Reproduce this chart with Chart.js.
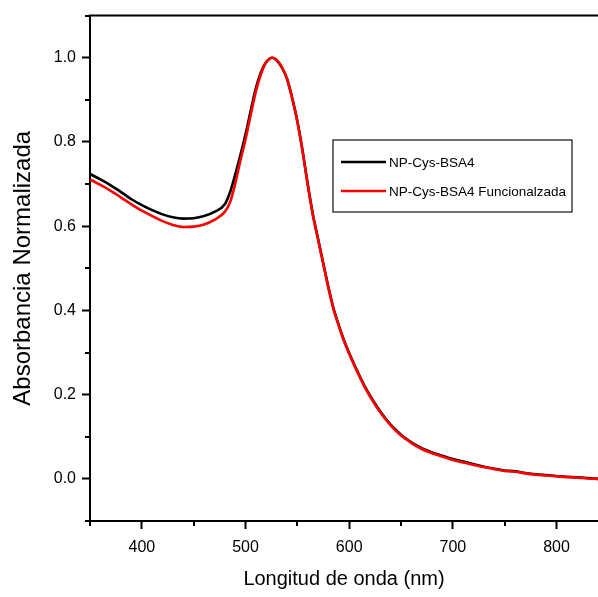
<!DOCTYPE html>
<html lang="es">
<head>
<meta charset="UTF-8">
<title>Absorbancia Normalizada</title>
<script src="https://cdn.jsdelivr.net/npm/chart.js@4.4.1/dist/chart.umd.min.js"></script>
<style>
    body { margin: 0; background: #fff; }
    #wrap { width: 598px; height: 597px; }
</style>
</head>
<body>
<div id="wrap"><canvas id="myChart" width="598" height="597"></canvas></div>
<script>
// data
const wavelength = [350, 360, 370, 380, 390, 400, 410, 420, 430, 440, 450, 460, 470, 480, 485, 490, 495, 500, 505, 510, 515, 520, 526, 530, 535, 540, 545, 550, 555, 560, 565, 570, 575, 580, 585, 590, 595, 600, 605, 610, 615, 620, 630, 640, 650, 655, 660, 670, 680, 690, 700, 710, 720, 730, 740, 750, 760, 770, 780, 790, 800, 810, 820, 830, 840];
const absBsa4 = [0.724, 0.711, 0.697, 0.681, 0.664, 0.650, 0.638, 0.628, 0.621, 0.618, 0.619, 0.624, 0.634, 0.652, 0.680, 0.722, 0.768, 0.818, 0.874, 0.928, 0.966, 0.990, 1.000, 0.994, 0.977, 0.950, 0.905, 0.850, 0.780, 0.700, 0.628, 0.570, 0.512, 0.455, 0.404, 0.365, 0.329, 0.299, 0.271, 0.245, 0.220, 0.198, 0.160, 0.129, 0.105, 0.095, 0.087, 0.073, 0.063, 0.055, 0.047, 0.041, 0.035, 0.029, 0.024, 0.020, 0.018, 0.014, 0.011, 0.009, 0.007, 0.005, 0.004, 0.002, 0.000];
const absFunc = [0.711, 0.698, 0.684, 0.668, 0.652, 0.637, 0.624, 0.612, 0.603, 0.598, 0.599, 0.604, 0.615, 0.634, 0.656, 0.700, 0.755, 0.806, 0.864, 0.920, 0.962, 0.989, 1.000, 0.995, 0.978, 0.950, 0.903, 0.848, 0.778, 0.698, 0.626, 0.568, 0.510, 0.453, 0.402, 0.363, 0.327, 0.297, 0.269, 0.243, 0.218, 0.196, 0.158, 0.127, 0.103, 0.094, 0.085, 0.071, 0.061, 0.053, 0.045, 0.039, 0.033, 0.028, 0.023, 0.019, 0.017, 0.013, 0.010, 0.008, 0.006, 0.004, 0.003, 0.001, 0.000];
const seriesLabels = ['NP-Cys-BSA4', 'NP-Cys-BSA4 Funcionalzada'];

const xMajorTicks = [400, 500, 600, 700, 800];
const xMinorTicks = [350, 450, 550, 650, 750];
const yMajorTicks = [0, 0.2, 0.4, 0.6, 0.8, 1.0];
const yMinorTicks = [-0.1, 0.1, 0.3, 0.5, 0.7, 0.9, 1.1];

const fontFamily = "'Liberation Sans', Arial, sans-serif";
Chart.defaults.font.family = fontFamily;
Chart.defaults.color = '#000';

// minor ticks and the top frame line
const framePlugin = {
    id: 'frame',
    afterDraw(chart) {
        const ctx = chart.ctx;
        const area = chart.chartArea;
        const xs = chart.scales.x;
        const ys = chart.scales.y;
        ctx.save();
        ctx.strokeStyle = '#000';
        ctx.lineWidth = 2;
        ctx.beginPath();
        ctx.moveTo(area.left - 1, area.top);
        ctx.lineTo(area.right, area.top);
        yMinorTicks.forEach(v => {
            const py = Math.round(ys.getPixelForValue(v));
            ctx.moveTo(area.left - 5, py);
            ctx.lineTo(area.left, py);
        });
        xMinorTicks.forEach(v => {
            const px = Math.round(xs.getPixelForValue(v));
            ctx.moveTo(px, area.bottom);
            ctx.lineTo(px, area.bottom + 5);
        });
        ctx.stroke();
        ctx.restore();
    }
};

// boxed legend inside the plot
const legendBoxPlugin = {
    id: 'legendBox',
    afterDraw(chart) {
        const ctx = chart.ctx;
        const box = { x: 333, y: 140, w: 239, h: 72 };
        ctx.save();
        ctx.strokeStyle = '#222';
        ctx.lineWidth = 1.3;
        ctx.strokeRect(box.x, box.y, box.w, box.h);
        ctx.font = '13.5px ' + fontFamily;
        ctx.textBaseline = 'middle';
        ctx.fillStyle = '#000';
        const rows = [1, 0]; // dataset index per row
        const rowY = [162, 191];
        rows.forEach((di, i) => {
            const ds = chart.data.datasets[di];
            ctx.strokeStyle = ds.borderColor;
            ctx.lineWidth = 2.5;
            ctx.beginPath();
            ctx.moveTo(341, rowY[i]);
            ctx.lineTo(386, rowY[i]);
            ctx.stroke();
            ctx.fillText(ds.label, 389, rowY[i] + 1);
        });
        ctx.restore();
    }
};

const ctx = document.getElementById('myChart').getContext('2d');
new Chart(ctx, {
    type: 'line',
    data: {
        datasets: [
            {
                label: seriesLabels[1],
                data: wavelength.map((w, i) => ({ x: w, y: absFunc[i] })),
                borderColor: '#ff0000',
                borderWidth: 2.6,
                pointRadius: 0,
                cubicInterpolationMode: 'monotone',
                order: 1
            },
            {
                label: seriesLabels[0],
                data: wavelength.map((w, i) => ({ x: w, y: absBsa4[i] })),
                borderColor: '#000000',
                borderWidth: 2.6,
                pointRadius: 0,
                cubicInterpolationMode: 'monotone',
                order: 2
            }
        ]
    },
    options: {
        responsive: false,
        animation: false,
        layout: { padding: { top: 15, right: 0, bottom: 0, left: 0 } },
        plugins: {
            legend: { display: false },
            tooltip: { enabled: false }
        },
        scales: {
            x: {
                type: 'linear',
                min: 350,
                max: 840,
                afterBuildTicks: scale => { scale.ticks = xMajorTicks.map(v => ({ value: v })); },
                afterFit: scale => { scale.height = 76; },
                grid: { display: true, drawOnChartArea: false, drawTicks: true, tickLength: 8, tickWidth: 2, tickColor: '#000' },
                border: { display: true, color: '#000', width: 2 },
                ticks: {
                    font: { size: 16 },
                    color: '#000',
                    padding: 9,
                    maxRotation: 0,
                    autoSkip: false,
                    callback: v => String(v)
                },
                title: {
                    display: true,
                    text: 'Longitud de onda (nm)',
                    font: { size: 20 },
                    color: '#000',
                    padding: { top: 0, bottom: 6 }
                }
            },
            y: {
                type: 'linear',
                min: -0.1,
                max: 1.1,
                afterBuildTicks: scale => { scale.ticks = yMajorTicks.map(v => ({ value: v })); },
                afterFit: scale => { scale.width = 90; },
                grid: { display: true, drawOnChartArea: false, drawTicks: true, tickLength: 8, tickWidth: 2, tickColor: '#000' },
                border: { display: true, color: '#000', width: 2 },
                ticks: {
                    font: { size: 16 },
                    color: '#000',
                    padding: 6,
                    callback: v => v.toFixed(1)
                },
                title: {
                    display: true,
                    text: 'Absorbancia Normalizada',
                    font: { size: 24 },
                    color: '#000',
                    padding: { top: 9, bottom: 0 }
                }
            }
        }
    },
    plugins: [framePlugin, legendBoxPlugin]
});
</script>
</body>
</html>
